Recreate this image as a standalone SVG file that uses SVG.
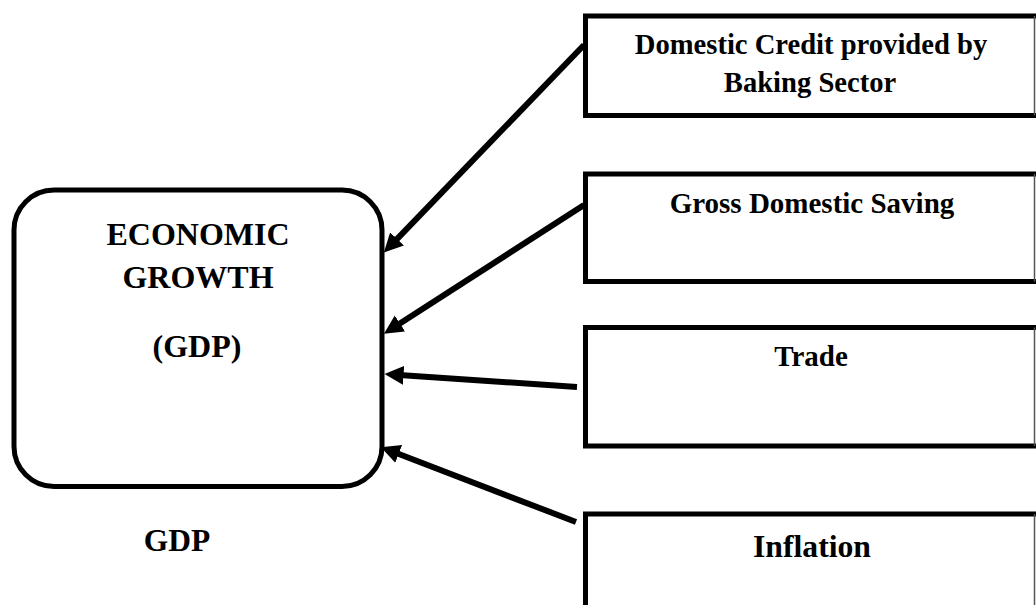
<svg xmlns="http://www.w3.org/2000/svg" width="1036" height="605" viewBox="0 0 1036 605">
  <style>
    .box { fill: #ffffff; stroke: #000000; stroke-width: 5; }
    .edge { stroke: #555555; stroke-width: 1.5; }
    .lbl { font-family: "Liberation Serif", "Times New Roman", serif; font-weight: bold; fill: #000000; text-anchor: middle; }
    .conn { stroke: #000000; stroke-width: 6; fill: none; marker-end: url(#head); }
  </style>
  <defs>
    <marker id="head" markerUnits="userSpaceOnUse" markerWidth="20" markerHeight="20" viewBox="0 0 20 20" refX="0.5" refY="10" orient="auto">
      <path d="M0,0.5 L19,10 L0,19.5 z" fill="#000000"/>
    </marker>
  </defs>
  <rect width="1036" height="605" fill="#ffffff"/>

  <g id="economic-growth">
    <rect class="box" x="14" y="190" width="368" height="296.5" rx="40" ry="40"/>
    <text class="lbl" x="198" y="245" font-size="32">ECONOMIC</text>
    <text class="lbl" x="198" y="288" font-size="32">GROWTH</text>
    <text class="lbl" x="197" y="357" font-size="32">(GDP)</text>
  </g>

  <g id="gdp-label">
    <text class="lbl" x="177" y="551" font-size="31.5">GDP</text>
  </g>

  <g id="domestic-credit">
    <rect class="box" x="585.5" y="16" width="470" height="99.5"/>
    <line class="edge" x1="1034.5" y1="16" x2="1034.5" y2="115.5"/>
    <text class="lbl" x="811" y="54" font-size="28.6">Domestic Credit provided by</text>
    <text class="lbl" x="810" y="92" font-size="28.6">Baking Sector</text>
  </g>

  <g id="gross-domestic-saving">
    <rect class="box" x="585.5" y="174" width="470" height="107.5"/>
    <line class="edge" x1="1034.5" y1="174" x2="1034.5" y2="281.5"/>
    <text class="lbl" x="812" y="213" font-size="29">Gross Domestic Saving</text>
  </g>

  <g id="trade">
    <rect class="box" x="585.5" y="327.5" width="470" height="118.5"/>
    <line class="edge" x1="1034.5" y1="327.5" x2="1034.5" y2="446"/>
    <text class="lbl" x="811" y="366" font-size="29">Trade</text>
  </g>

  <g id="inflation">
    <rect class="box" x="585.5" y="514" width="470" height="120"/>
    <line class="edge" x1="1034.5" y1="514" x2="1034.5" y2="605"/>
    <text class="lbl" x="812" y="557" font-size="31.7">Inflation</text>
  </g>

  <g id="connectors">
    <line class="conn" x1="584" y1="45" x2="396.7" y2="239.3"/>
    <line class="conn" x1="584" y1="205" x2="399.5" y2="323.7"/>
    <line class="conn" x1="577" y1="387" x2="403" y2="375.3"/>
    <line class="conn" x1="576" y1="522" x2="398.2" y2="453.8"/>
  </g>
</svg>
